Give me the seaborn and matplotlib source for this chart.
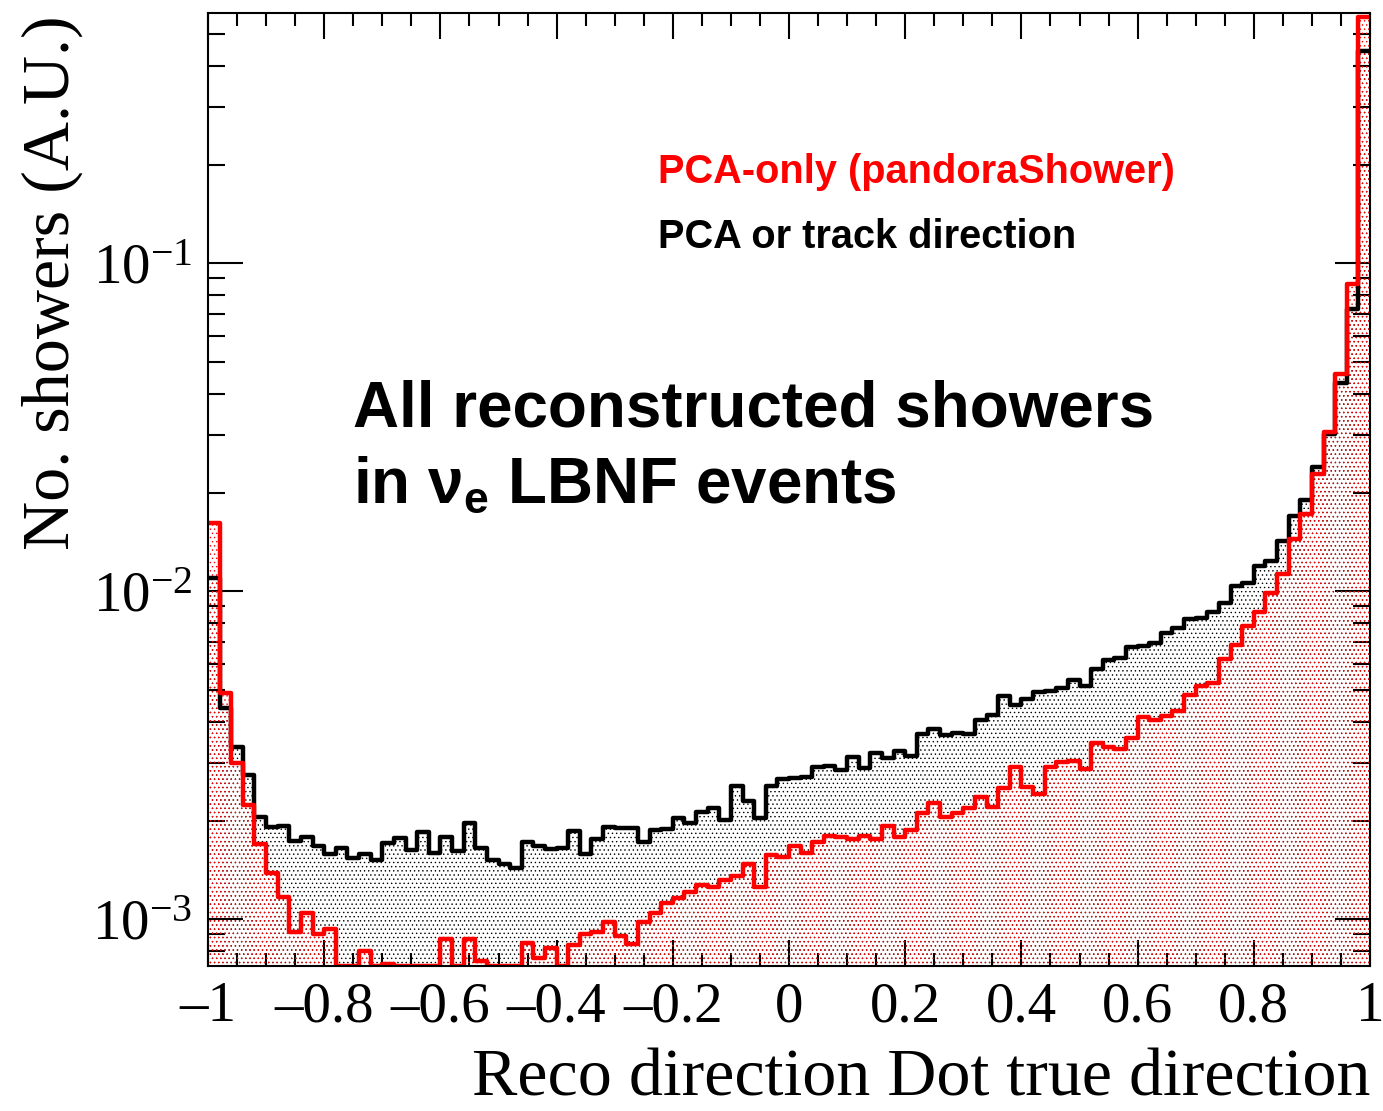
import numpy as np
import pandas as pd
import seaborn as sns
import matplotlib.pyplot as plt
from matplotlib.ticker import MultipleLocator, FuncFormatter, LogLocator, NullFormatter

# 100 bins in cos(reco, true), normalised counts (A.U.)
N_BINS = 100
X_RANGE = (-1.0, 1.0)

pca_or_track = [
    0.01098, 0.004421, 0.003362, 0.002756, 0.002047, 0.001908, 0.001929, 0.001737, 0.001778, 0.001673,
    0.001578, 0.001653, 0.001540, 0.001581, 0.001516, 0.001705, 0.001773, 0.001627, 0.001850, 0.001596,
    0.001785, 0.001619, 0.001962, 0.001646, 0.001519, 0.001474, 0.001436, 0.001725, 0.001677, 0.001635,
    0.001646, 0.001859, 0.001581, 0.001753, 0.001917, 0.001904, 0.001896, 0.001725, 0.001873, 0.001882,
    0.002041, 0.001962, 0.002120, 0.002190, 0.002008, 0.002556, 0.002295, 0.002032, 0.002550, 0.002673,
    0.002703, 0.002723, 0.002920, 0.002934, 0.002853, 0.003133, 0.002887, 0.003222, 0.003112, 0.003268,
    0.003149, 0.003676, 0.003800, 0.003651, 0.003695, 0.003669, 0.004056, 0.004200, 0.004778, 0.004506,
    0.004702, 0.004927, 0.004972, 0.005078, 0.005354, 0.005133, 0.005803, 0.006191, 0.006253, 0.006780,
    0.006823, 0.006940, 0.007472, 0.007713, 0.008234, 0.008286, 0.008647, 0.009191, 0.010394, 0.010563,
    0.011903, 0.012338, 0.014225, 0.017000, 0.019043, 0.023950, 0.030236, 0.043171, 0.072444, 0.4446,
]

# zeros = bins below the plotted range
pca_only = [
    0.01616, 0.004893, 0.003004, 0.002232, 0.001697, 0.001386, 0.001171, 0.000916, 0.001042, 0.000901,
    0.000932, 0.0, 0.0, 0.000801, 0.0, 0.000730, 0.0, 0.0, 0.0, 0.0,
    0.000868, 0.0, 0.000868, 0.000747, 0.0, 0.0, 0.0, 0.000844, 0.000760, 0.000815,
    0.0, 0.000834, 0.000901, 0.000916, 0.000983, 0.000889, 0.000840, 0.000983, 0.001047, 0.001123,
    0.001158, 0.001213, 0.001272, 0.001257, 0.001317, 0.001355, 0.001474, 0.001252, 0.001570, 0.001551,
    0.001673, 0.001590, 0.001725, 0.001795, 0.001778, 0.001753, 0.001795, 0.001753, 0.001929, 0.001778,
    0.001873, 0.002105, 0.002258, 0.002047, 0.002114, 0.002180, 0.002356, 0.002196, 0.002510, 0.002908,
    0.002538, 0.002403, 0.002908, 0.003019, 0.003040, 0.002868, 0.003436, 0.003350, 0.003296, 0.003574,
    0.004133, 0.004041, 0.004159, 0.004311, 0.004811, 0.005133, 0.005236, 0.006236, 0.006871, 0.007817,
    0.008617, 0.009902, 0.011266, 0.014468, 0.017164, 0.022735, 0.030530, 0.046055, 0.086579, 0.5623,
]

Y_MIN, Y_MAX = 7.2e-4, 0.58

sns.set_style("ticks")
plt.rcParams['font.family'] = ['Liberation Serif', 'DejaVu Serif']
plt.rcParams['mathtext.fontset'] = 'custom'
plt.rcParams['mathtext.bf'] = 'Liberation Sans:bold'
plt.rcParams['mathtext.rm'] = 'Liberation Serif'
plt.rcParams['axes.unicode_minus'] = True
plt.rcParams['hatch.linewidth'] = 0.5
plt.rcParams['text.color'] = 'black'
plt.rcParams['axes.labelcolor'] = 'black'

edges = np.linspace(X_RANGE[0], X_RANGE[1], N_BINS + 1)
centers = 0.5 * (edges[:-1] + edges[1:])
df = pd.concat([
    pd.DataFrame({'x': centers, 'w': pca_or_track, 'method': 'PCA or track direction'}),
    pd.DataFrame({'x': centers, 'w': pca_only, 'method': 'PCA-only (pandoraShower)'}),
])
# ROOT draws out-of-range bins on the frame bottom
df['w_plot'] = df['w'].clip(lower=Y_MIN)

fig = plt.figure(figsize=(13.83, 11.11), dpi=100)
ax = fig.add_axes([0.1504, 0.1305, 0.8402, 0.8578])

colors = {'PCA or track direction': '#000000', 'PCA-only (pandoraShower)': '#ff0000'}
for method in ['PCA or track direction', 'PCA-only (pandoraShower)']:
    sub = df[df['method'] == method]
    c = colors[method]
    # dotted pattern fill
    sns.histplot(data=sub, x='x', weights='w_plot', bins=N_BINS, binrange=X_RANGE,
                 element='step', fill=True, color=c, alpha=1, ax=ax)
    coll = ax.collections[-1]
    coll.set_facecolor('none')
    coll.set_edgecolor(c)
    coll.set_linewidth(0)
    coll.set_hatch('....')
    if hasattr(coll, 'set_hatchcolor'):
        coll.set_hatchcolor(c)
    # outline
    sns.histplot(data=sub, x='x', weights='w_plot', bins=N_BINS, binrange=X_RANGE,
                 element='step', fill=False, color=c, linewidth=3.2, ax=ax)

ax.set_yscale('log')
ax.set_xlim(*X_RANGE)
ax.set_ylim(Y_MIN, Y_MAX)

ax.xaxis.set_major_locator(MultipleLocator(0.2))
ax.xaxis.set_minor_locator(MultipleLocator(0.05))
ax.xaxis.set_major_formatter(FuncFormatter(lambda v, p: f"{v:g}".replace('-', '\u2013') if abs(v) > 1e-9 else "0"))
ax.yaxis.set_major_locator(LogLocator(base=10, numticks=10))
ax.yaxis.set_minor_locator(LogLocator(base=10, subs=np.arange(2, 10), numticks=20))
ax.yaxis.set_minor_formatter(NullFormatter())

for s in ax.spines.values():
    s.set_linewidth(1.5)
    s.set_color('black')
ax.tick_params(which='both', direction='in', top=True, right=True, width=1.5, colors='black')
ax.tick_params(axis='x', which='major', length=19, labelsize=41, pad=11)
ax.tick_params(axis='x', which='minor', length=9.5)
ax.tick_params(axis='y', which='major', length=25, labelsize=41, pad=11)
ax.tick_params(axis='y', which='minor', length=12.5)

ax.set_xlabel('Reco direction Dot true direction', fontsize=49, loc='right', color='black')
ax.xaxis.label.set_va('baseline')
ax.xaxis.set_label_coords(1.0, -0.1354)
ax.set_ylabel('No. showers (A.U.)', fontsize=49, loc='top', color='black')
ax.yaxis.label.set_va('baseline')
ax.yaxis.set_label_coords(-0.1196, 0.998)

sans = ['Liberation Sans', 'DejaVu Sans']
fig.text(0.4758, 0.8353, 'PCA-only (pandoraShower)', color='#ff0000', fontsize=28.6,
         fontweight='bold', family=sans, va='baseline')
fig.text(0.4758, 0.7768, 'PCA or track direction', color='black', fontsize=28.6,
         fontweight='bold', family=sans, va='baseline')
fig.text(0.2552, 0.6159, 'All reconstructed showers', color='black', fontsize=45.9,
         fontweight='bold', family=sans, va='baseline')
fig.text(0.2552, 0.5473, r'in $\mathbf{\nu_{e}}$ LBNF events', color='black', fontsize=45.9,
         fontweight='bold', family=sans, va='baseline')

plt.savefig('out.png', dpi=100)
